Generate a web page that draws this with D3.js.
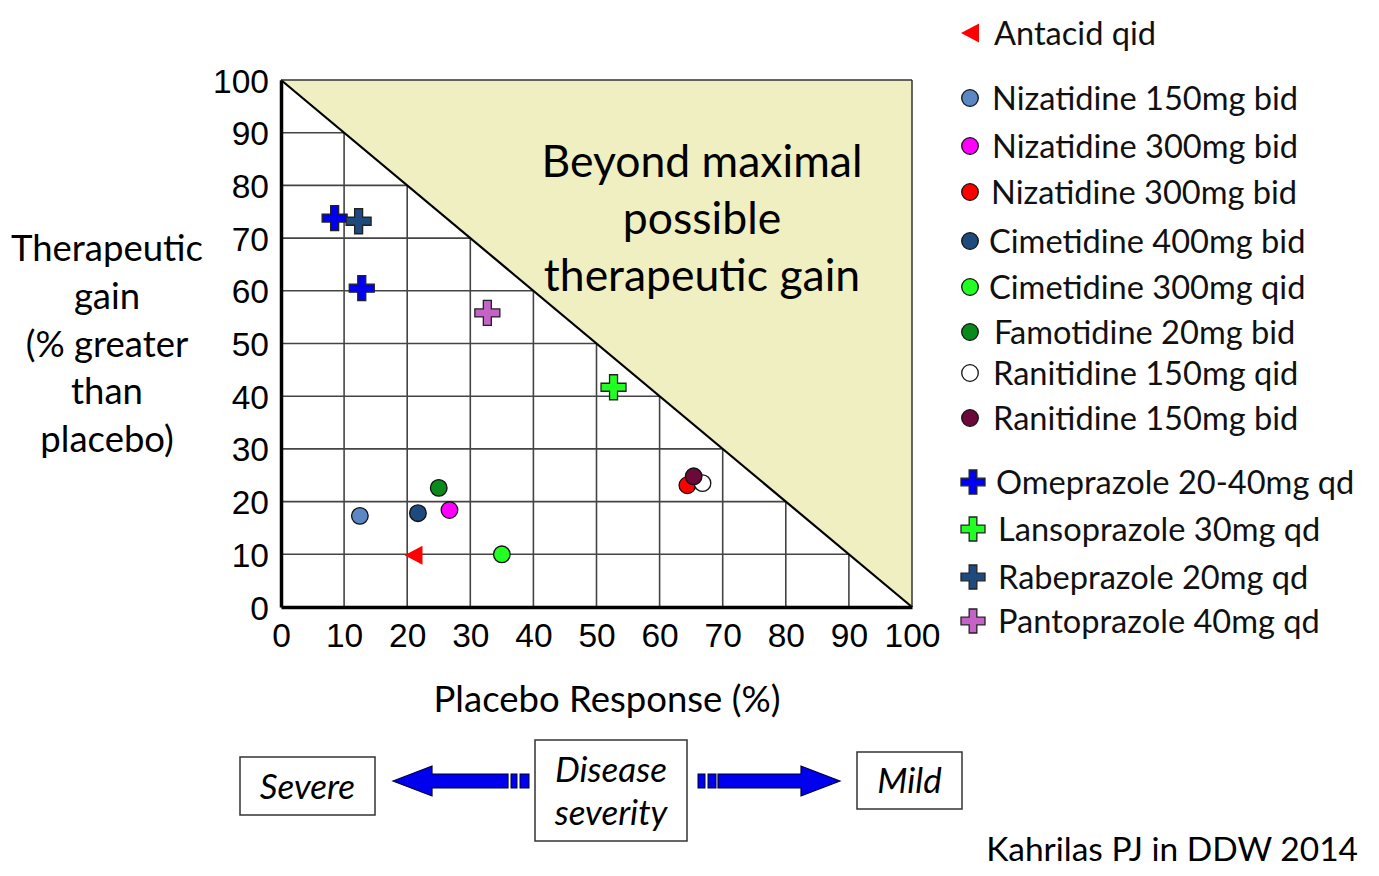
<!DOCTYPE html>
<html><head><meta charset="utf-8">
<script src="https://cdn.jsdelivr.net/npm/d3@7"></script>
<style>body{margin:0;background:#fff}svg{display:block}</style>
</head><body>
<svg id="c" width="1379" height="876"></svg>
<script>
// ---- data ----
const drugs = ["Antacid qid","Nizatidine 150mg bid","Nizatidine 300mg bid","Nizatidine 300mg bid ","Cimetidine 400mg bid","Cimetidine 300mg qid","Famotidine 20mg bid","Ranitidine 150mg qid","Ranitidine 150mg bid","Omeprazole 20-40mg qd","Lansoprazole 30mg qd","Rabeprazole 20mg qd","Pantoprazole 40mg qd"];
const markerType = ["triangle","circle","circle","circle","circle","circle","circle","circle","circle","cross","cross","cross","cross"];
// points: drug index, placebo response (%), therapeutic gain (%)
const pointDrug   = [0, 1, 4, 6, 2, 5, 3, 7, 8, 10, 9, 9, 11, 12];
const placeboResp = [21, 12.5, 21.7, 25, 26.7, 35, 64.4, 66.8, 65.4, 52.7, 8.5, 12.8, 12.3, 32.7];
const therGain    = [9.8, 17.3, 17.8, 22.6, 18.4, 10, 23.1, 23.5, 24.8, 41.7, 73.8, 60.5, 73.2, 55.8];
const xTicks = [0,10,20,30,40,50,60,70,80,90,100];
const yTicks = [0,10,20,30,40,50,60,70,80,90,100];
const yTitle = ["Therapeutic","gain","(% greater","than","placebo)"];
const regionLabel = ["Beyond maximal","possible","therapeutic gain"];

// ---- styles ----
const colors = ["#ff0000","#5b87c5","#ff00ff","#ff0000","#1f4a7e","#22ff22","#0a8a1a","#ffffff","#6b0a3a","#0000ee","#22ff22","#1f4a7e","#c462c8"];
const legendY = [33,98,146,192,241,287,332,373,418,482,529,577,621];
const legendTextX = [994,992,992,991,989,989,994,993,993,996,998,998,998];

const svg = d3.select("#c");
const x = d3.scaleLinear().domain([0,100]).range([281,912]);
const y = d3.scaleLinear().domain([0,100]).range([607,80]);
const SANS = "Lato, 'Open Sans', sans-serif";
const ARIAL = "'Liberation Sans', Arial, sans-serif";

// grid
const g = svg.append("g");
g.selectAll(".vg").data(xTicks.slice(1,-1)).join("line")
  .attr("x1",d=>x(d)).attr("x2",d=>x(d)).attr("y1",y(0)).attr("y2",y(100))
  .attr("stroke","#444").attr("stroke-width",1.6);
g.selectAll(".hg").data(yTicks.slice(1,-1)).join("line")
  .attr("x1",x(0)).attr("x2",x(100)).attr("y1",d=>y(d)).attr("y2",d=>y(d))
  .attr("stroke","#444").attr("stroke-width",1.6);

// beyond-maximal triangle
svg.append("path")
  .attr("d", d3.line()([[x(0),y(100)],[x(100),y(100)],[x(100),y(0)]]) + "Z")
  .attr("fill","#efefc2").attr("stroke","none");
svg.append("line").attr("x1",x(0)).attr("y1",y(100)).attr("x2",x(100)).attr("y2",y(0))
  .attr("stroke","#000").attr("stroke-width",2.2);
svg.append("line").attr("x1",x(0)).attr("y1",y(100)).attr("x2",x(100)).attr("y2",y(100))
  .attr("stroke","#333").attr("stroke-width",1.5);
svg.append("line").attr("x1",x(100)).attr("y1",y(100)).attr("x2",x(100)).attr("y2",y(0))
  .attr("stroke","#333").attr("stroke-width",1.5);

// axes
const xAxis = d3.axisBottom(x).tickValues(xTicks).tickSize(0).tickPadding(16);
const yAxis = d3.axisLeft(y).tickValues(yTicks).tickSize(0).tickPadding(12);
const gx = svg.append("g").attr("transform",`translate(0,${y(0)})`).call(xAxis);
const gy = svg.append("g").attr("transform",`translate(${x(0)},0)`).call(yAxis);
[gx,gy].forEach(a=>{
  a.select(".domain").attr("stroke","#000").attr("stroke-width",3.5);
  a.selectAll("text").attr("font-family",ARIAL).attr("font-size",33.5).attr("fill","#000");
});
gy.selectAll("text").attr("dy","0.36em");

// region label
svg.append("g").selectAll("text").data(regionLabel).join("text")
  .attr("x",702).attr("y",(d,i)=>177+i*57).attr("text-anchor","middle")
  .attr("font-family",SANS).attr("font-size",44.5).attr("fill","#000").text(d=>d);

// titles
svg.append("g").selectAll("text").data(yTitle).join("text")
  .attr("x",107).attr("y",(d,i)=>261+i*47.8).attr("text-anchor","middle")
  .attr("font-family",SANS).attr("font-size",36.5).text(d=>d);
svg.append("text").attr("x",607).attr("y",712).attr("text-anchor","middle")
  .attr("font-family",SANS).attr("font-size",36.5).text("Placebo Response (%)");

// marker drawing
function crossPath(s){
  const t = s*0.32;
  return `M${-t},${-s}H${t}V${-t}H${s}V${t}H${t}V${s}H${-t}V${t}H${-s}V${-t}H${-t}Z`;
}
function drawMarker(sel, type, color){
  if(type==="circle"){
    sel.append("circle").attr("r",8.3).attr("fill",color).attr("stroke","#111").attr("stroke-width",1.3);
  } else if(type==="cross"){
    sel.append("path").attr("d",crossPath(12.5)).attr("fill",color).attr("stroke","#222").attr("stroke-width",1.3);
  } else {
    sel.append("path").attr("d","M-9,0L9,-9.5L9,9.5Z").attr("fill",color);
  }
}

// points
placeboResp.forEach((px,i)=>{
  const di = pointDrug[i];
  const m = svg.append("g").attr("transform",`translate(${x(px)},${y(therGain[i])})`);
  drawMarker(m, markerType[di], colors[di]);
});

// legend
drugs.forEach((name,i)=>{
  const mx = markerType[i]==="cross" ? 973 : 970;
  const m = svg.append("g").attr("transform",`translate(${mx},${legendY[i]})`);
  drawMarker(m, markerType[i], colors[i]);
  if(markerType[i]==="cross") m.select("path").attr("d",crossPath(12));
  svg.append("text").attr("x",legendTextX[i]).attr("y",legendY[i]+12)
    .attr("font-family",SANS).attr("font-size",32.6).attr("fill","#111").text(name.trim());
});

// disease severity schematic
const boxes = [
  {x:240,y:757,w:135,h:58,lines:["Severe"],ty:[799]},
  {x:535,y:740,w:152,h:101,lines:["Disease","severity"],ty:[782,825]},
  {x:857,y:752,w:105,h:57,lines:["Mild"],ty:[793]}
];
boxes.forEach(b=>{
  svg.append("rect").attr("x",b.x).attr("y",b.y).attr("width",b.w).attr("height",b.h)
    .attr("fill","#fff").attr("stroke","#333").attr("stroke-width",1.5);
  b.lines.forEach((l,i)=>svg.append("text").attr("x",b.x+b.w/2).attr("y",b.ty[i])
    .attr("text-anchor","middle").attr("font-family",SANS).attr("font-style","italic")
    .attr("font-size",35).text(l));
});
const ay = 781;
function arrow(tip, headBase, shaftEnd){
  svg.append("path").attr("d",
    `M${tip},${ay}L${headBase},${ay-15}L${headBase},${ay-7}L${shaftEnd},${ay-7}L${shaftEnd},${ay+7}L${headBase},${ay+7}L${headBase},${ay+15}Z`)
    .attr("fill","#0000ee").attr("stroke","#000033").attr("stroke-width",1.2);
}
arrow(393,432,508);
arrow(840,801,718);
[[511,517],[520,529],[698,705],[708,716]].forEach(([a,b])=>{
  svg.append("rect").attr("x",a).attr("y",ay-7).attr("width",b-a).attr("height",14)
    .attr("fill","#0000ee").attr("stroke","#000033").attr("stroke-width",1);
});

svg.append("text").attr("x",1358).attr("y",861).attr("text-anchor","end")
  .attr("font-family",SANS).attr("font-size",33.5).text("Kahrilas PJ in DDW 2014");
</script>
</body></html>
